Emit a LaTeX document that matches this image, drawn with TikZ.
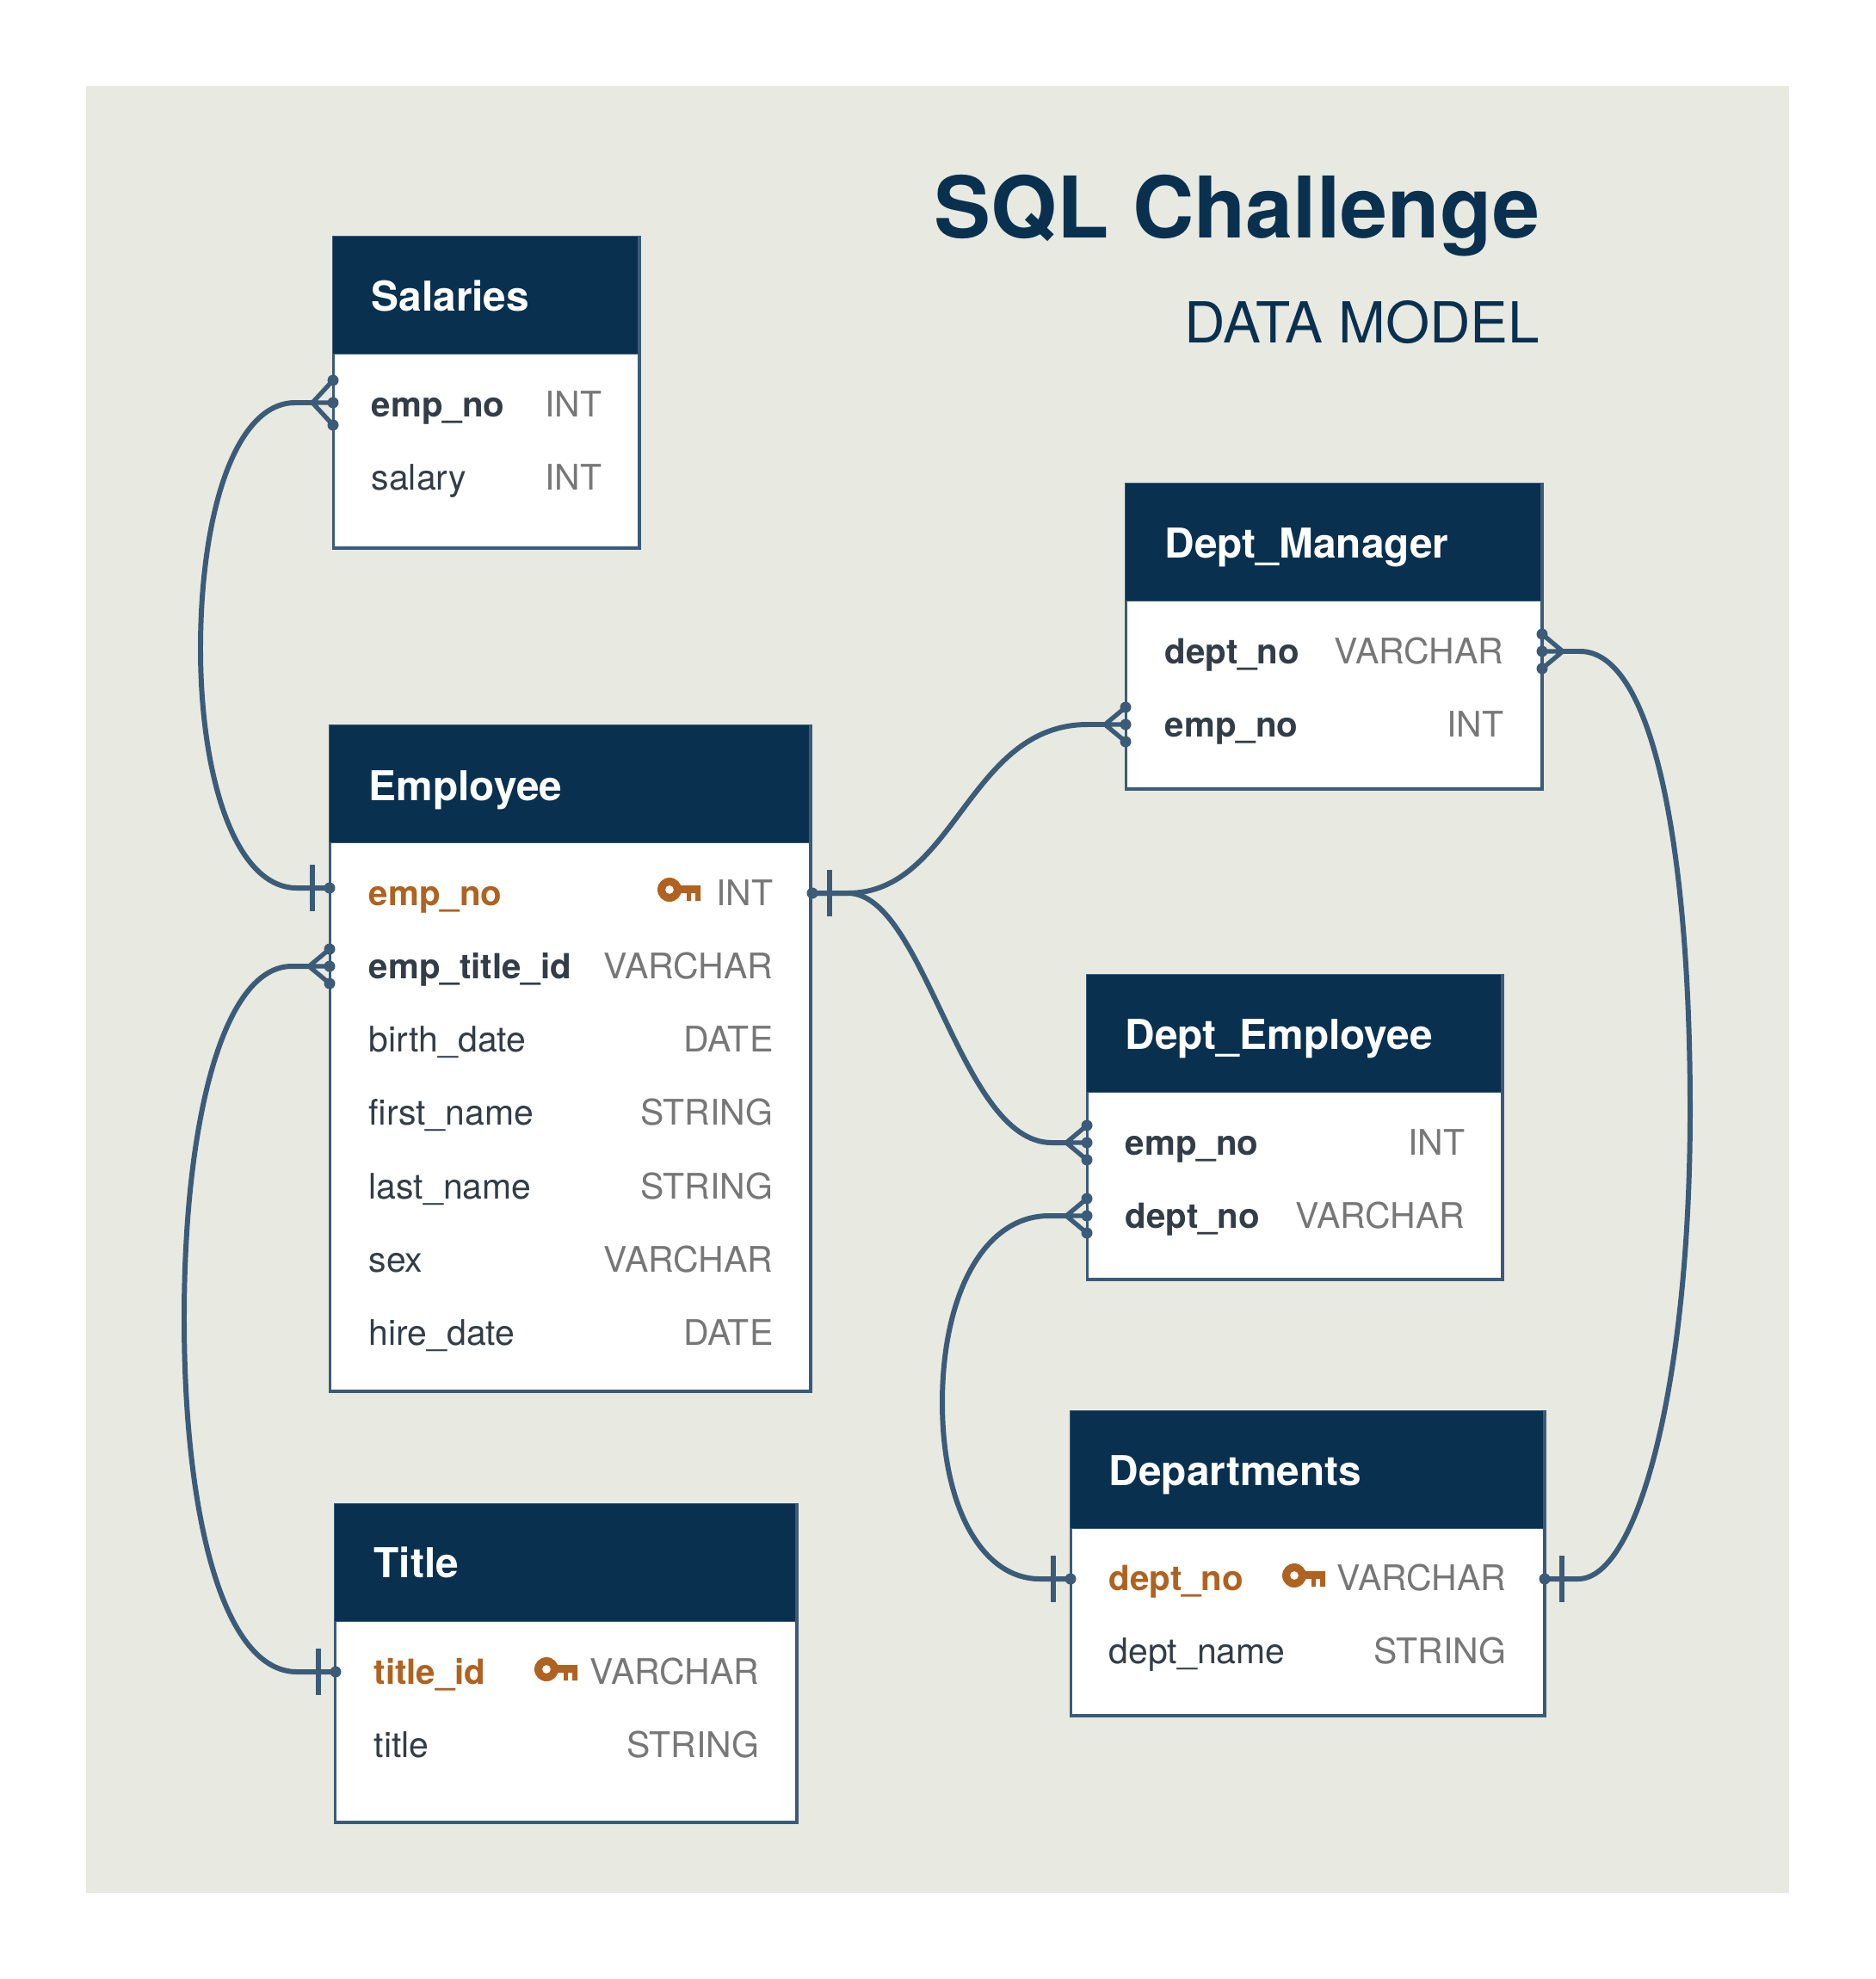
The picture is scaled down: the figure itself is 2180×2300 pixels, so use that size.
\documentclass[tikz,border=0pt]{standalone}
\usepackage{fontspec}
\setmainfont{TeX Gyre Heros}
\definecolor{paper}{HTML}{E8E9E1}
\definecolor{navy}{HTML}{09304F}
\definecolor{edge}{HTML}{3B5B78}
\definecolor{keyorange}{HTML}{B06220}
\definecolor{ink}{HTML}{333D47}
\definecolor{typegray}{HTML}{777777}
\tikzset{%
	tablebody/.style	= {draw = edge, line width = 1.1pt, fill = white, rectangle, anchor = north west, inner sep = 0pt},
	tablehead/.style	= {draw = edge, line width = 0.5pt, fill = navy, rectangle, anchor = north west, inner sep = 0pt, minimum height = 1.37cm},
	headtext/.style		= {anchor = base west, inner sep = 0pt, text = white, font = \fontsize{13.6}{16}\selectfont\bfseries},
	plainfield/.style	= {anchor = base west, inner sep = 0pt, text = ink, font = \fontsize{11.65}{14}\selectfont},
	boldfield/.style	= {plainfield, font = \fontsize{11.45}{14}\selectfont\bfseries},
	keyfield/.style		= {boldfield, text = keyorange},
	typefield/.style	= {anchor = base east, inner sep = 0pt, text = typegray, font = \fontsize{11.65}{14}\selectfont},
	relation/.style		= {draw = edge, line width = 1.7pt},
	footspread/.store in = \footspread,
	footspread = 20,
	crowfoot/.pic = {
		\coordinate (-apex) at (-24, 0);
		\draw[edge, line width = 1.5pt] (0, -\footspread) -- (-apex) -- (0, \footspread) (-apex) -- (0, 0);
		\fill[edge] (0, -\footspread) circle[radius = 6.5] (0, 0) circle[radius = 6.5] (0, \footspread) circle[radius = 6.5];
	},
	onebar/.pic = {
		\coordinate (-end) at (0, 0);
		\draw[edge, line width = 1.5pt] (-20, -27) -- (-20, 27);
		\fill[edge] (0, 0) circle[radius = 6.5];
	},
	keyicon/.pic = {
		\fill[keyorange, even odd rule] (0, 0) circle[radius = 14] (0, 0) circle[radius = 5];
		\fill[keyorange] (10, -5) -- (36, -5) -- (36, 13) -- (30, 13) -- (30, 4) -- (25, 4) -- (25, 13) -- (20, 13) -- (20, 4) -- (10, 4) -- cycle;
	}
}

\begin{document}
\begin{tikzpicture}[x = 0.01cm, y = -0.01cm]
	\useasboundingbox (0, 0) rectangle (2180, 2300);
	\fill[paper] (100, 100) rectangle (2079, 2200);

	\draw % Drawing the titles
	node at (1790, 276) [anchor = base east, inner sep = 0pt, text = navy, font = \fontsize{28.1}{32}\selectfont\bfseries] (title) {SQL Challenge}
	node at (1790, 398) [anchor = base east, inner sep = 0pt, text = navy, font = \fontsize{18.7}{22}\selectfont] (subtitle) {DATA MODEL}
	;

	\draw % Salaries
	node at (385.5, 273.5) [tablebody, minimum width = 3.55cm, minimum height = 3.61cm] (salaries) {}
	node at (385.5, 273.5) [tablehead, minimum width = 3.55cm] (salarieshead) {}
	node at (431, 361) [headtext] {Salaries}
	node at (431, 484) [boldfield] {emp\_no}
	node at (700, 484) [typefield] {INT}
	node at (431, 569) [plainfield] {salary}
	node at (700, 569) [typefield] {INT}
	;

	\draw % Employee
	node at (381.5, 841.5) [tablebody, minimum width = 5.58cm, minimum height = 7.73cm] (employee) {}
	node at (381.5, 841.5) [tablehead, minimum width = 5.58cm] (employeehead) {}
	node at (428, 930) [headtext] {Employee}
	node at (428, 1052) [keyfield] {emp\_no}
	node at (899, 1052) [typefield] {INT}
	node at (428, 1137) [boldfield] {emp\_title\_id}
	node at (899, 1137) [typefield] {VARCHAR}
	node at (428, 1222) [plainfield] {birth\_date}
	node at (899, 1222) [typefield] {DATE}
	node at (428, 1307) [plainfield] {first\_name}
	node at (899, 1307) [typefield] {STRING}
	node at (428, 1393) [plainfield] {last\_name}
	node at (899, 1393) [typefield] {STRING}
	node at (428, 1478) [plainfield] {sex}
	node at (899, 1478) [typefield] {VARCHAR}
	node at (428, 1563) [plainfield] {hire\_date}
	node at (899, 1563) [typefield] {DATE}
	;

	\draw % Title
	node at (387.5, 1746.5) [tablebody, minimum width = 5.36cm, minimum height = 3.69cm] (titletable) {}
	node at (387.5, 1746.5) [tablehead, minimum width = 5.36cm] (titlehead) {}
	node at (434, 1833) [headtext] {Title}
	node at (434, 1957) [keyfield] {title\_id}
	node at (883, 1957) [typefield] {VARCHAR}
	node at (434, 2042) [plainfield] {title}
	node at (883, 2042) [typefield] {STRING}
	;

	\draw % Dept_Manager
	node at (1306.5, 560.5) [tablebody, minimum width = 4.83cm, minimum height = 3.54cm] (manager) {}
	node at (1306.5, 560.5) [tablehead, minimum width = 4.83cm] (managerhead) {}
	node at (1353, 648) [headtext] {Dept\_Manager}
	node at (1353, 771) [boldfield] {dept\_no}
	node at (1748, 771) [typefield] {VARCHAR}
	node at (1353, 856) [boldfield] {emp\_no}
	node at (1748, 856) [typefield] {INT}
	;

	\draw % Dept_Employee
	node at (1261.5, 1131.5) [tablebody, minimum width = 4.82cm, minimum height = 3.53cm] (deptemp) {}
	node at (1261.5, 1131.5) [tablehead, minimum width = 4.82cm] (deptemphead) {}
	node at (1307, 1219) [headtext] {Dept\_Employee}
	node at (1307, 1342) [boldfield] {emp\_no}
	node at (1703, 1342) [typefield] {INT}
	node at (1307, 1427) [boldfield] {dept\_no}
	node at (1703, 1427) [typefield] {VARCHAR}
	;

	\draw % Departments
	node at (1242.5, 1638.5) [tablebody, minimum width = 5.5cm, minimum height = 3.53cm] (departments) {}
	node at (1242.5, 1638.5) [tablehead, minimum width = 5.5cm] (departmentshead) {}
	node at (1288, 1726) [headtext] {Departments}
	node at (1288, 1848) [keyfield] {dept\_no}
	node at (1751, 1848) [typefield] {VARCHAR}
	node at (1288, 1933) [plainfield] {dept\_name}
	node at (1751, 1933) [typefield] {STRING}
	;

	% Key icons
	\pic at (778, 1034) {keyicon};
	\pic at (1504, 1831) {keyicon};
	\pic at (635, 1940) {keyicon};

	% Line ends
	\pic[footspread = 26] (salfoot) at (387, 468) {crowfoot};
	\pic (empbar) at (383, 1032) {onebar};
	\pic[xscale = -1] (empout) at (944, 1038) {onebar};
	\pic (titlefoot) at (383, 1123) {crowfoot};
	\pic (titlebar) at (390, 1943) {onebar};
	\pic (mgrfoot) at (1308, 842) {crowfoot};
	\pic[xscale = -1] (mgrout) at (1792, 757) {crowfoot};
	\pic (deptfoot) at (1263, 1328) {crowfoot};
	\pic (dnofoot) at (1263, 1413) {crowfoot};
	\pic (dnobar) at (1244, 1835) {onebar};
	\pic[xscale = -1] (dnoout) at (1795, 1835) {onebar};

	\coordinate (salbow) at (233, 754);
	\coordinate (titlebow) at (214, 1532);
	\coordinate (dnobow) at (1095, 1630);
	\coordinate (mgrbow) at (1964, 1290);

	% Drawing the relations
	\draw[relation] (salfoot-apex) -- ++(-20, 0) .. controls (272, 468) and (233, 600) .. (salbow) .. controls (233, 900) and (272, 1032) .. (345, 1032) -- (empbar-end);
	\draw[relation] (titlefoot-apex) -- ++(-20, 0) .. controls (260, 1123) and (214, 1300) .. (titlebow) .. controls (214, 1765) and (260, 1943) .. (345, 1943) -- (titlebar-end);
	\draw[relation] (empout-end) -- (985, 1038) .. controls (1110, 1038) and (1125, 842) .. (1264, 842) -- (mgrfoot-apex);
	\draw[relation] (empout-end) -- (985, 1038) .. controls (1075, 1038) and (1115, 1328) .. (1222, 1328) -- (deptfoot-apex);
	\draw[relation] (dnofoot-apex) -- ++(-20, 0) .. controls (1143, 1413) and (1095, 1505) .. (dnobow) .. controls (1095, 1755) and (1143, 1835) .. (1208, 1835) -- (dnobar-end);
	\draw[relation] (mgrout-apex) -- ++(20, 0) .. controls (1924, 757) and (1964, 1000) .. (mgrbow) .. controls (1964, 1605) and (1904, 1835) .. (1834, 1835) -- (dnoout-end);
\end{tikzpicture}
\end{document}
